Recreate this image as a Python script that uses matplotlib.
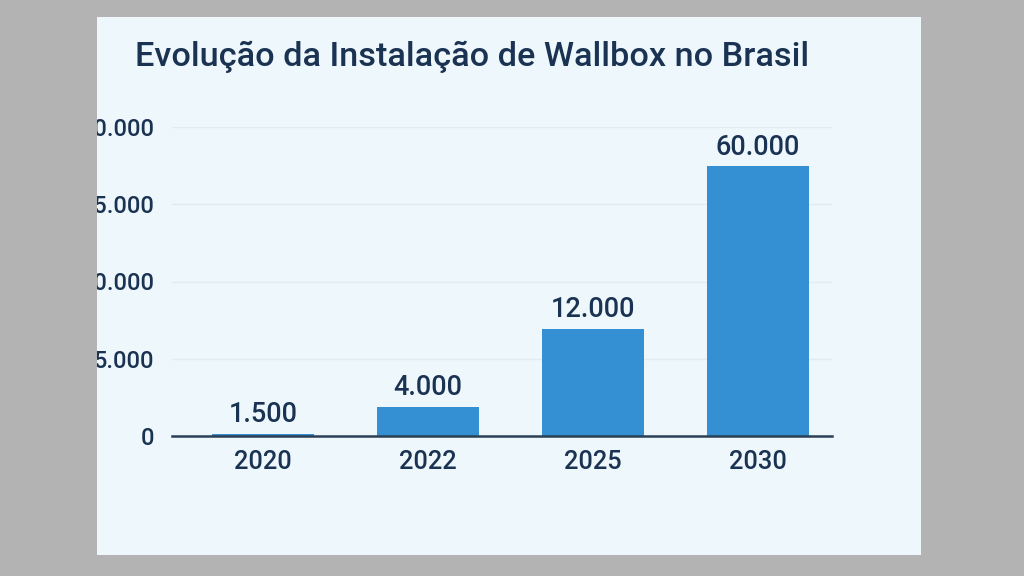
import matplotlib.pyplot as plt
from matplotlib.patches import Rectangle

# data
years = ['2020', '2022', '2025', '2030']
bar_heights = [130, 1900, 6950, 17450]          # heights as drawn on the axis
value_labels = ['1.500', '4.000', '12.000', '60.000']  # labels printed over bars
y_ticks = [0, 5000, 10000, 15000, 20000]
y_tick_labels = ['0', '5.000', '10.000', '15.000', '20.000']

title = 'Evolução da Instalação de Wallbox no Brasil'

GREY = '#b3b3b3'
PANEL = '#eef8fc'
BAR = '#3490d2'
TEXT = '#1b3352'

plt.rcParams['font.family'] = ['Roboto', 'DejaVu Sans']

W, H = 1024, 576
fig = plt.figure(figsize=(W / 100, H / 100), dpi=100, facecolor=GREY)

# light panel
fig.add_artist(Rectangle((97 / W, 1 - 555 / H), (921 - 97) / W, (555 - 17) / H,
                         transform=fig.transFigure, facecolor=PANEL,
                         edgecolor='none', zorder=-5))

ax = fig.add_axes([172 / W, (H - 436) / H, 660 / W, (436 - 127) / H])
ax.set_facecolor('none')

x = range(len(years))
ax.bar(x, bar_heights, width=0.62, color=BAR, zorder=2)

for xi, h, lab in zip(x, bar_heights, value_labels):
    ax.annotate(lab, (xi, h), xytext=(0, 8.5), textcoords='offset points',
                ha='center', va='baseline', fontsize=19.5, color=TEXT,
                fontweight='medium', annotation_clip=False)

ax.set_xlim(-0.552, 3.448)
ax.set_ylim(0, 20000)
ax.set_xticks(list(x))
ax.set_xticklabels(years)
ax.set_yticks(y_ticks)
ax.set_yticklabels(y_tick_labels)
ax.tick_params(axis='x', length=0, pad=10, labelsize=18.3, labelcolor=TEXT)
ax.tick_params(axis='y', length=0, pad=13, labelsize=17, labelcolor=TEXT)
for lab in ax.get_xticklabels() + ax.get_yticklabels():
    lab.set_fontweight('medium')

ax.grid(axis='y', color='#e2ecf0', lw=1, zorder=0)
ax.set_axisbelow(True)
for s in ['top', 'right', 'left']:
    ax.spines[s].set_visible(False)
ax.spines['bottom'].set_color('#2b3f55')
ax.spines['bottom'].set_linewidth(1.8)
ax.spines['bottom'].set_zorder(3)

fig.text(135 / W, 1 - 57 / H, title, ha='left', va='center',
         fontsize=24.7, fontweight='medium', color=TEXT)

# grey frame on the left hides the start of the tick labels, as in the reference
fig.add_artist(Rectangle((0, 0), 97 / W, 1, transform=fig.transFigure,
                         facecolor=GREY, edgecolor='none', zorder=10))

fig.savefig('out.png', dpi=100, facecolor=GREY)
